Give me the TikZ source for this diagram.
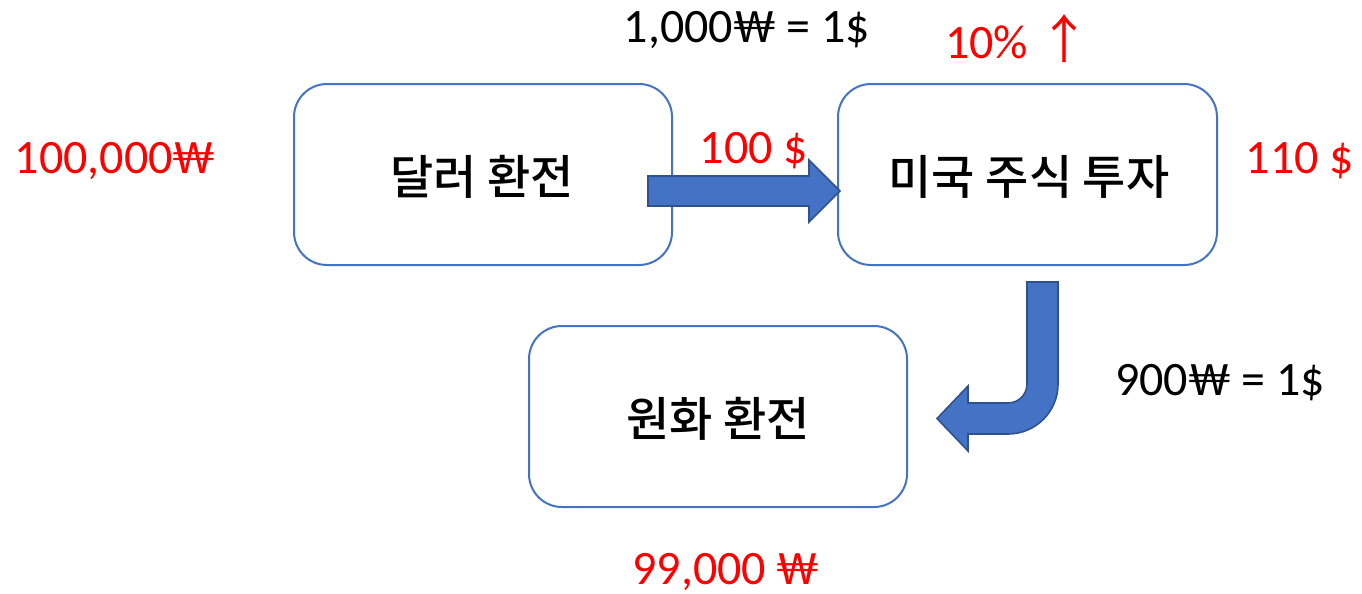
\documentclass[tikz,border=0pt]{standalone}
\usepackage{fontspec}
\setmainfont{Carlito}
\newfontfamily\kor{Noto Sans CJK KR}[UprightFont={* Medium}]
\newfontfamily\korreg{Noto Sans CJK KR}
\definecolor{boxblue}{HTML}{4472C4}
\definecolor{edgeblue}{HTML}{2F528F}
\definecolor{myred}{HTML}{FF0000}
\tikzset{
  stepbox/.style={draw=boxblue, line width=2pt, rounded corners=33pt, inner sep=0pt},
  boxtext/.style={font=\kor\fontsize{47}{56}\selectfont, text=black},
  blocka/.style={fill=boxblue, draw=edgeblue, line width=1.6pt, line join=miter},
  lbl/.style={anchor=base, inner sep=0pt, font=\fontsize{48}{56}\selectfont},
  redlbl/.style={lbl, text=myred},
}
\begin{document}
\begin{tikzpicture}[x=1pt,y=-1pt]
\useasboundingbox (0,0) rectangle (1362,594);
% boxes
\draw[stepbox] (294,84) rectangle (672,265);
\draw[stepbox] (838,84) rectangle (1217,265);
\draw[stepbox] (529,326) rectangle (907,507);
\node[boxtext] (b1) at (482,177) {달러 환전};
\node[boxtext] (b2) at (1029,177) {미국 주식 투자};
\node[boxtext] (b3) at (718,419) {원화 환전};
% straight block arrow
\draw[blocka] (648,176) -- (809,176) -- (809,160) -- (840,191) -- (809,222) -- (809,206) -- (648,206) -- cycle;
% bent block arrow
\draw[blocka] (1027,282) -- (1058,282) -- (1058,384)
  .. controls (1058,411.6) and (1035.6,434) .. (1008,434)
  -- (968,434) -- (968,451) -- (937,418.5) -- (968,386) -- (968,403) -- (1008,403)
  .. controls (1018.5,403) and (1027,394.5) .. (1027,384) -- cycle;
% labels
\node[lbl] (r1) at (747,43) {1,000₩ = 1\$};
\node[redlbl] (up) at (1018,59) {10\% {\korreg\fontsize{52}{56}\selectfont ↑}};
\node[redlbl] (w0) at (115,173) {100,000₩};
\node[redlbl] (d0) at (754,163) {100 \$};
\node[redlbl] (d1) at (1300,173) {110 \$};
\node[lbl] (r2) at (1220,395) {900₩ = 1\$};
\node[redlbl] (w1) at (726,584) {99,000 ₩};
\end{tikzpicture}
\end{document}
